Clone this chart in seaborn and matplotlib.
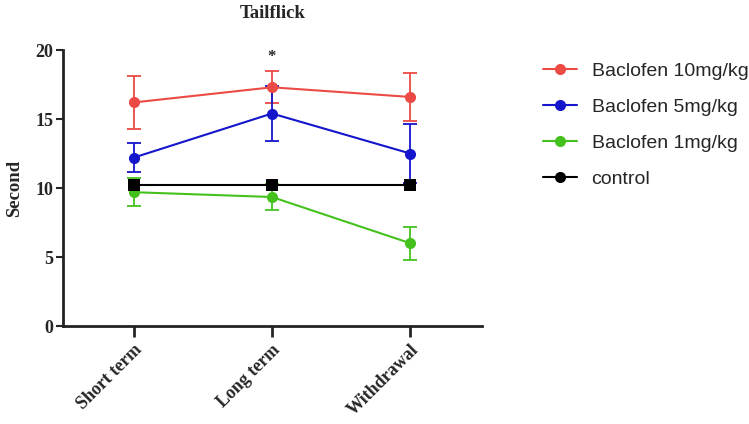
import pandas as pd
import matplotlib.pyplot as plt
import seaborn as sns

# time points and groups
phases = ['Short term', 'Long term', 'Withdrawal']
groups = ['Baclofen 10mg/kg', 'Baclofen 5mg/kg', 'Baclofen 1mg/kg', 'control']

# mean latency (s) per group
mean_10 = [16.2, 17.3, 16.6]
mean_5 = [12.2, 15.4, 12.5]
mean_1 = [9.7, 9.35, 6.0]
mean_ctrl = [10.2, 10.2, 10.2]

# error (SEM) per group
err_10 = [1.9, 1.15, 1.75]
err_5 = [1.05, 2.0, 2.15]
err_1 = [1.0, 0.95, 1.2]
err_ctrl = [0.0, 0.0, 0.0]

colors = ['#EC4A45', '#1515CC', '#45C11E', '#000000']
markers = ['o', 'o', 'o', 's']

rows = []
for g, m, e in zip(groups, [mean_10, mean_5, mean_1, mean_ctrl],
                   [err_10, err_5, err_1, err_ctrl]):
    for p, v, s in zip(phases, m, e):
        rows.append({'phase': p, 'group': g, 'second': v, 'err': s})
df = pd.DataFrame(rows)

sns.set_style('ticks')
plt.rcParams['font.family'] = ['Liberation Serif', 'DejaVu Serif']

fig = plt.figure(figsize=(7.49, 4.24), dpi=100)
ax = fig.add_axes([0.084, 0.231, 0.56, 0.651])

pal = dict(zip(groups, colors))
sns.lineplot(data=df, x='phase', y='second', hue='group', style='group',
             hue_order=groups, style_order=groups, palette=pal,
             markers=dict(zip(groups, markers)), dashes=False,
             markersize=8, markeredgewidth=0, linewidth=1.5, ax=ax)

# error bars from the table
for g, c in zip(groups, colors):
    sub = df[df['group'] == g]
    if sub['err'].sum() == 0:
        continue
    xs = [phases.index(p) for p in sub['phase']]
    ax.errorbar(xs, sub['second'], yerr=sub['err'], fmt='none',
                ecolor=c, elinewidth=1.3, capsize=5, capthick=1.3, zorder=1)

ax.text(1, 19.5, '*', ha='center', va='center', fontsize=12, fontweight='bold')

ax.set_xlim(-0.51, 2.52)
ax.set_ylim(0, 20)
ax.set_yticks([0, 5, 10, 15, 20])
ax.set_xlabel('')
ax.set_ylabel('Second', fontsize=13.5, fontweight='bold', labelpad=9)
ax.set_title('Tailflick', fontsize=13.5, fontweight='bold', pad=23)
ax.set_xticks(range(len(phases)))
ax.set_xticklabels(phases, rotation=45, ha='right', rotation_mode='anchor',
                   fontsize=13, fontweight='bold')
for t in ax.get_yticklabels():
    t.set_fontweight('bold')
    t.set_fontsize(13)
ax.tick_params(axis='x', length=8, width=2, pad=3)
ax.tick_params(axis='y', length=5, width=1.5, pad=2)
sns.despine(ax=ax)
for s in ['left', 'bottom']:
    ax.spines[s].set_linewidth(2)
    ax.spines[s].set_color('#222222')

leg = ax.legend(loc='upper left', bbox_to_anchor=(1.126, 0.985), frameon=False,
                prop={'family': 'Liberation Sans', 'size': 14},
                labelspacing=0.95, handlelength=1.75, handletextpad=0.75,
                borderaxespad=0)
for h in leg.legend_handles:
    h.set_marker('o')

fig.savefig('out.png', dpi=100)
